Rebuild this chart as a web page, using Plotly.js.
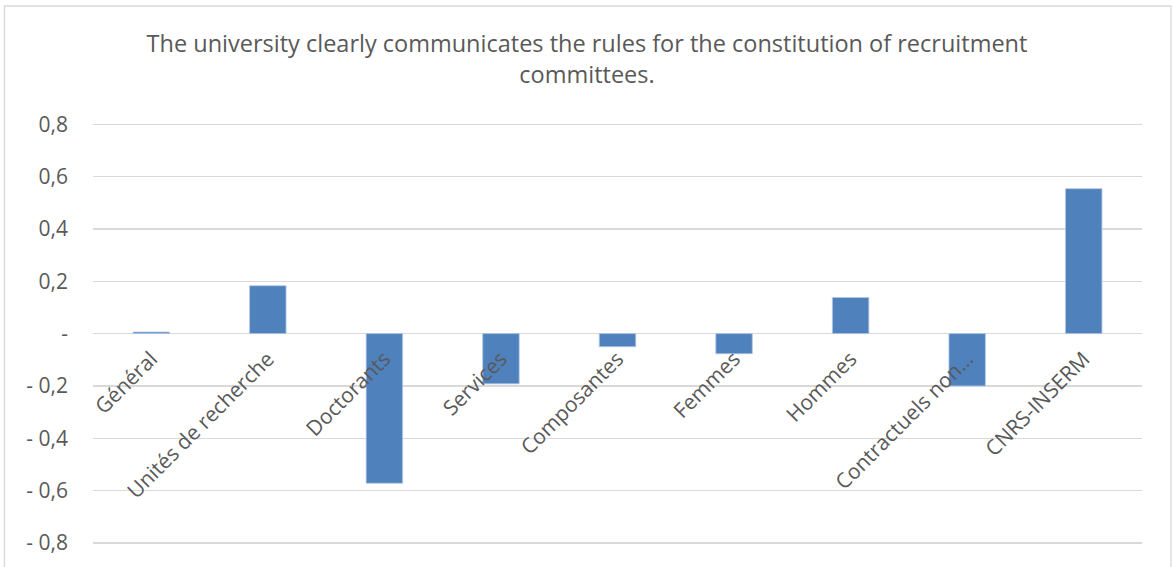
<!DOCTYPE html>
<html>
<head>
<meta charset="utf-8">
<script src="https://cdn.plot.ly/plotly-3.0.1.min.js"></script>
<style>html,body{margin:0;padding:0;background:#fff;}#chart{width:1174px;height:567px;}</style>
</head>
<body>
<div id="chart"></div>
<script>
const categories = ["Général", "Unités de recherche", "Doctorants", "Services", "Composantes", "Femmes", "Hommes", "Contractuels non…", "CNRS-INSERM"];
const values = [0.006, 0.183, -0.572, -0.192, -0.05, -0.077, 0.138, -0.2, 0.554];
const yTickVals = [0.8, 0.6, 0.4, 0.2, 0, -0.2, -0.4, -0.6, -0.8];
const yTickText = ["0,8", "0,6", "0,4", "0,2", "-", "- 0,2", "- 0,4", "- 0,6", "- 0,8"];
const titleText = "The university clearly communicates the rules for the constitution of recruitment<br>committees.";

const yMin = -0.85, yMax = 0.805;
const W = 1174, H = 567;
const mL = 93, mR = 32, mT = 123, mB = 11;
const plotW = W - mL - mR, plotH = H - mT - mB;
const font = "Open Sans, sans-serif";
const grey = "#595959";

const trace = {
  type: "bar",
  x: categories,
  y: values,
  marker: {color: "#4f81bd", line: {color: "#b4c7e7", width: 0.8}},
  hoverinfo: "x+y"
};

const layout = {
  width: W, height: H,
  margin: {l: mL, r: mR, t: mT, b: mB, pad: 0},
  paper_bgcolor: "#ffffff",
  plot_bgcolor: "#ffffff",
  showlegend: false,
  bargap: 0.687,
  title: {
    text: titleText,
    font: {family: font, size: 23.5, color: grey},
    xref: "container", x: 0.5, xanchor: "center",
    yref: "container", y: 1 - 52 / H, yanchor: "top"
  },
  xaxis: {
    type: "category",
    anchor: "free",
    position: (0 - yMin) / (yMax - yMin),
    showgrid: false,
    showline: false,
    zeroline: false,
    ticks: "",
    tickangle: -45,
    ticklabelstandoff: 8,
    tickfont: {family: font, size: 21, color: grey}
  },
  yaxis: {
    range: [yMin, yMax],
    tickvals: yTickVals,
    ticktext: yTickText,
    showgrid: true,
    gridcolor: "#d9d9d9",
    gridwidth: 1.3,
    zeroline: true,
    zerolinecolor: "#d9d9d9",
    zerolinewidth: 1.3,
    showline: false,
    ticks: "",
    ticklabelstandoff: 24,
    tickfont: {family: font, size: 21, color: grey}
  },
  shapes: [{
    type: "rect", xref: "paper", yref: "paper",
    x0: (4.5 - mL) / plotW, x1: (1171 - mL) / plotW,
    y0: -0.2, y1: (H - mB - 6) / plotH,
    line: {color: "#d9d9d9", width: 1.3},
    fillcolor: "rgba(0,0,0,0)",
    layer: "below"
  }]
};

Plotly.newPlot("chart", [trace], layout, {displayModeBar: false, staticPlot: true});
</script>
</body>
</html>
